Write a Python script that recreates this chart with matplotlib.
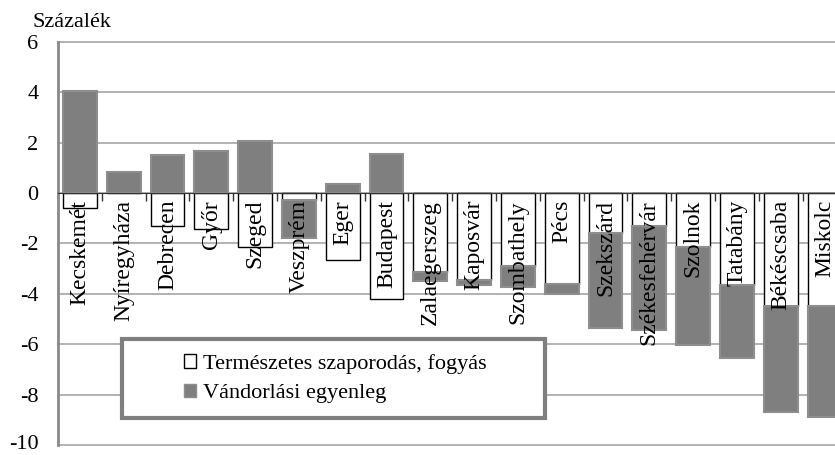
import matplotlib.pyplot as plt
from matplotlib.patches import Patch, Rectangle
from matplotlib.transforms import ScaledTranslation

plt.rcParams['font.family'] = ['Liberation Serif', 'DejaVu Serif']

cities = ['Kecskemét', 'Nyíregyháza', 'Debrecen', 'Győr', 'Szeged', 'Veszprém',
          'Eger', 'Budapest', 'Zalaegerszeg', 'Kaposvár', 'Szombathely', 'Pécs',
          'Szekszárd', 'Székesfehérvár', 'Szolnok', 'Tatabány', 'Békéscsaba',
          'Miskolc']
# natural increase / decrease
natural = [-0.6, 0.0, -1.3, -1.45, -2.15, -0.3, -2.65, -4.2, -3.15, -3.45,
           -2.9, -3.6, -1.6, -1.3, -2.15, -3.65, -4.5, -4.5]
# migration balance
migration = [4.05, 0.85, 1.5, 1.65, 2.05, -1.5, 0.35, 1.55, -0.35, -0.2,
             -0.85, -0.4, -3.75, -4.15, -3.9, -2.9, -4.2, -4.4]
yticks = [6, 4, 2, 0, -2, -4, -6, -8, -10]
legend_labels = ['Természetes szaporodás, fogyás', 'Vándorlási egyenleg']

W, H = 835, 455
fig = plt.figure(figsize=(W / 100, H / 100), dpi=100)
ax = fig.add_axes([58 / W, 10 / H, 788.4 / W, 403.3 / H])

grey = '#7f7f7f'
x = range(len(cities))
ax.bar(x, natural, width=0.77, color='white', edgecolor='black', linewidth=1, zorder=2)
bottoms = [n if m < 0 and n < 0 else (n if m > 0 and n > 0 else 0)
           for n, m in zip(natural, migration)]
ax.bar(x, migration, width=0.77, bottom=bottoms, color=grey, edgecolor='#8e8e8e',
       linewidth=1.5, zorder=2)

for i, name in enumerate(cities):
    ax.annotate(name, (i, 0), xytext=(0, -5), textcoords='offset points',
                rotation=90, ha='center', va='top', fontsize=17, zorder=4)

ax.set_xlim(-0.5, len(cities) - 0.5)
ax.set_ylim(-10, 6)
ax.set_yticks(yticks)
ax.set_yticklabels([str(v) for v in yticks], fontsize=16)
ax.tick_params(axis='y', length=0, pad=14)
# keep the lowest label inside the picture
low = ax.get_yticklabels()[-1]
low.set_transform(low.get_transform() + ScaledTranslation(0, 3 / 100, fig.dpi_scale_trans))

ax.set_xticks([i - 0.5 for i in range(len(cities) + 1)])
ax.set_xticklabels([])
ax.tick_params(axis='x', direction='out', length=6, width=1, color='#333333')
ax.spines['bottom'].set_position(('data', 0))
ax.spines['bottom'].set_color('#333333')
ax.spines['bottom'].set_zorder(3)
for s in ['top', 'right']:
    ax.spines[s].set_visible(False)
ax.spines['left'].set_color('#8a8a8a')
ax.spines['left'].set_linewidth(2)

ax.set_axisbelow(True)
ax.yaxis.grid(True, color='#a6a6a6', linewidth=1.2)
for gl in ax.get_ygridlines():
    gl.set_clip_on(False)

fig.text(32 / W, 1 - 27 / H, 'Százalék', fontsize=16, va='baseline', ha='left')

ax.add_patch(Rectangle((122 / W, 1 - 418 / H), 423 / W, 79 / H, transform=fig.transFigure,
                       facecolor='white', edgecolor='#7f7f7f', linewidth=3, zorder=4))
handles = [Patch(facecolor='white', edgecolor='black', linewidth=1),
           Patch(facecolor=grey, edgecolor='#8e8e8e')]
leg = ax.legend(handles, legend_labels, loc='center', bbox_to_anchor=(335.5 / W, 1 - 378.5 / H),
                bbox_transform=fig.transFigure, frameon=False, fontsize=16,
                handlelength=0.55, handleheight=0.55, handletextpad=0.3, labelspacing=0.45)
leg.set_zorder(5)

fig.savefig('out.png', dpi=100)
